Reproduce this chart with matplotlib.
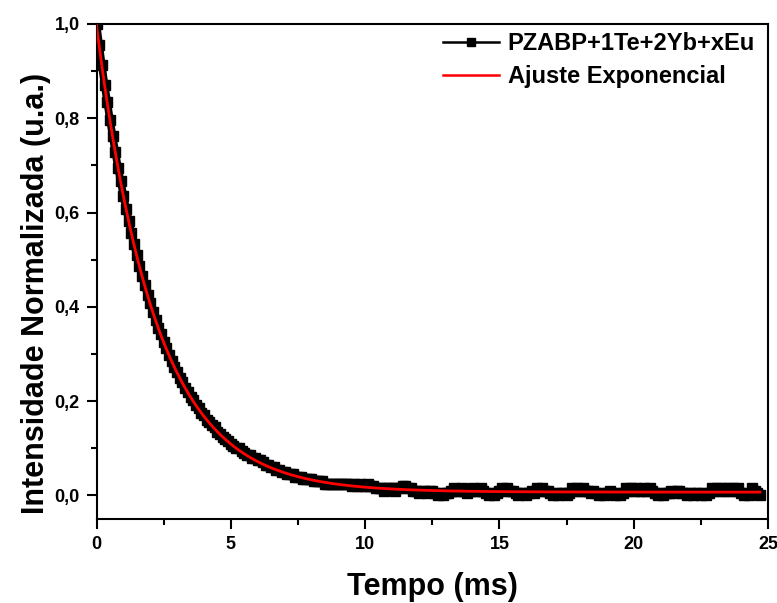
import numpy as np
import matplotlib
matplotlib.use("Agg")
import matplotlib.pyplot as plt
from matplotlib.lines import Line2D
from matplotlib.ticker import MultipleLocator, FuncFormatter

plt.rcParams['font.family'] = ['Liberation Sans', 'DejaVu Sans']
plt.rcParams['font.weight'] = 'bold'

# Normalised luminescence decay, sampled every 0.1 ms
sample_step_ms = 0.1
intensity = [
    1.000, 0.955, 0.912, 0.871, 0.834, 0.797, 0.762, 0.728, 0.695, 0.666,
    0.636, 0.608, 0.583, 0.556, 0.533, 0.509, 0.487, 0.465, 0.446, 0.425,
    0.408, 0.389, 0.373, 0.355, 0.342, 0.326, 0.313, 0.297, 0.286, 0.272,
    0.262, 0.249, 0.240, 0.228, 0.220, 0.209, 0.202, 0.191, 0.185, 0.175,
    0.170, 0.160, 0.155, 0.150, 0.145, 0.135, 0.130, 0.125, 0.120, 0.115,
    0.110, 0.105, 0.100, 0.100, 0.095, 0.090, 0.085, 0.085, 0.080, 0.080,
    0.075, 0.075, 0.070, 0.065, 0.065, 0.060, 0.060, 0.055, 0.055, 0.050,
    0.050, 0.045, 0.045, 0.045, 0.040, 0.040, 0.040, 0.035, 0.035, 0.035,
    0.035, 0.030, 0.030, 0.030, 0.030, 0.025, 0.025, 0.025, 0.025, 0.025,
    0.025, 0.025, 0.025, 0.025, 0.025, 0.020, 0.025, 0.020, 0.025, 0.020,
    0.020, 0.025, 0.020, 0.020,
    0.015, 0.015, 0.015, 0.010, 0.015, 0.015, 0.015, 0.010, 0.015, 0.015,
    0.020, 0.020, 0.015, 0.015,
    0.010, 0.010, 0.005, 0.010, 0.010, 0.005, 0.010, 0.010,
    0.005, 0.000, 0.005, 0.000, 0.005, 0.005,
    0.010, 0.015, 0.010, 0.010, 0.015, 0.010, 0.005, 0.010, 0.015, 0.010, 0.010, 0.015, 0.010,
    0.005, 0.000, 0.005, 0.000, 0.005,
    0.010, 0.015, 0.010, 0.015, 0.010, 0.010,
    0.005, 0.000, 0.005, 0.005, 0.000, 0.005, 0.010, 0.005,
    0.015, 0.010, 0.015, 0.010, 0.010,
    0.005, 0.000, 0.005, 0.000, 0.005, 0.005, 0.000, 0.005,
    0.015, 0.010, 0.015, 0.010, 0.015, 0.010,
    0.010, 0.005, 0.010,
    0.005, 0.000, 0.005, 0.000, 0.005, 0.010, 0.005, 0.000, 0.005, 0.000, 0.005,
    0.015, 0.010, 0.015, 0.010, 0.015, 0.010, 0.010, 0.015, 0.010, 0.015, 0.010,
    0.005, 0.000, 0.005, 0.000, 0.005, 0.005,
    0.010, 0.005, 0.010, 0.010, 0.005,
    0.005, 0.000, 0.005, 0.000, 0.005, 0.005, 0.000, 0.005, 0.000, 0.005,
    0.015, 0.010, 0.015, 0.010, 0.015, 0.010, 0.015, 0.010, 0.015, 0.010, 0.015,
    0.005, 0.000, 0.005, 0.000, 0.015, 0.010, 0.005, 0.000,
]
time_ms = np.arange(len(intensity)) * sample_step_ms

# Single-exponential fit: I(t) = A * exp(-t / tau) + y0
fit_amplitude = 0.99
fit_tau_ms = 2.2
fit_offset = 0.007

series_label = "PZABP+1Te+2Yb+xEu"
fit_label = "Ajuste Exponencial"
x_label = "Tempo (ms)"
y_label = "Intensidade Normalizada (u.a.)"

fig = plt.figure(figsize=(7.77, 6.03), dpi=100)
ax = fig.add_axes([0.1242, 0.1393, 0.8642, 0.8209])

ax.plot(time_ms, intensity, color='black', lw=5.5, marker='s',
        ms=7, mfc='black', mec='black', zorder=2,
        solid_joinstyle='round', solid_capstyle='butt')

t_fit = np.linspace(0, time_ms[-1], 600)
ax.plot(t_fit, fit_amplitude * np.exp(-t_fit / fit_tau_ms) + fit_offset,
        color='#ff0000', lw=2.0, zorder=3)

ax.set_xlim(0, 25)
ax.set_ylim(-0.05, 1.0)
ax.xaxis.set_major_locator(MultipleLocator(5))
ax.xaxis.set_minor_locator(MultipleLocator(2.5))
ax.yaxis.set_major_locator(MultipleLocator(0.2))
ax.yaxis.set_minor_locator(MultipleLocator(0.1))
ax.yaxis.set_major_formatter(FuncFormatter(lambda v, p: f"{v:.1f}".replace('.', ',')))
ax.xaxis.set_major_formatter(FuncFormatter(lambda v, p: f"{v:g}"))

for s in ax.spines.values():
    s.set_linewidth(1.5)
ax.tick_params(which='both', direction='out', width=1.5, top=False, right=False)
ax.tick_params(which='major', length=7, labelsize=13, pad=5)
ax.tick_params(which='minor', length=4.5)
for lbl in ax.get_xticklabels() + ax.get_yticklabels():
    lbl.set_fontweight('bold')

ax.set_xlabel(x_label, fontsize=22, fontweight='bold')
ax.xaxis.set_label_coords(0.5, -0.108)
ax.set_ylabel(y_label, fontsize=22, fontweight='bold')
ax.yaxis.set_label_coords(-0.068, 0.455)

handles = [
    Line2D([], [], color='black', lw=1.8, marker='s', ms=6, mfc='black', mec='black'),
    Line2D([], [], color='#ff0000', lw=1.8),
]
leg = ax.legend(handles, [series_label, fit_label], loc='upper right', frameon=False,
                fontsize=17, handlelength=2.4, handletextpad=0.35,
                bbox_to_anchor=(1.0, 1.01), borderaxespad=0.15, labelspacing=0.42)
for t in leg.get_texts():
    t.set_fontweight('bold')

fig.savefig("out.png", dpi=100)
